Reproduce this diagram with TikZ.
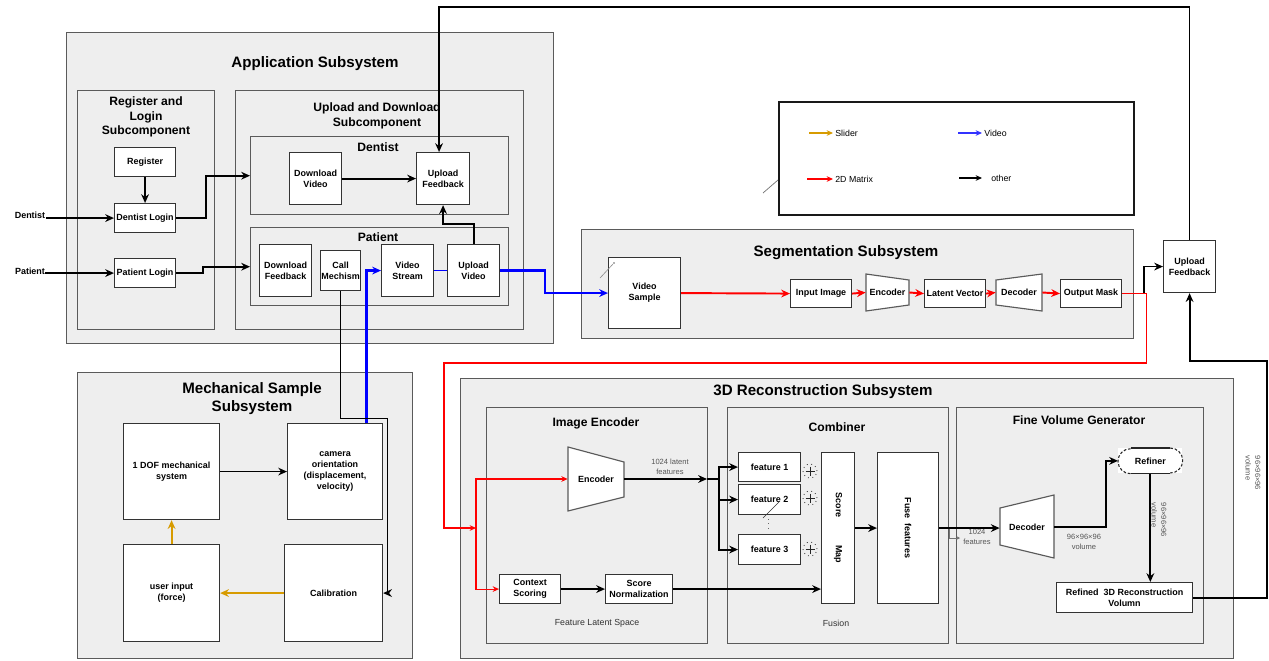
\documentclass[tikz,border=0pt]{standalone}
\usepackage{fontspec}
\usepackage{graphicx}
\setmainfont{Liberation Sans}
\usetikzlibrary{arrows.meta,calc}

\definecolor{panel}{HTML}{EEEEEE}
\definecolor{edge}{HTML}{5A5A5A}
\definecolor{boxedge}{HTML}{333333}
\definecolor{slider}{HTML}{D79B00}
\definecolor{vidblue}{HTML}{0000FF}
\definecolor{matred}{HTML}{FF0000}
\definecolor{notegray}{HTML}{555555}

\newcommand\myttl{\bfseries\fontsize{8.6}{10.2}\selectfont}
\newcommand\mysub{\bfseries\fontsize{6.9}{8.3}\selectfont}
\newcommand\mybox{\bfseries\fontsize{5.1}{6.3}\selectfont}
\newcommand\mynote{\fontsize{5}{6}\selectfont}
\newcommand\mytiny{\fontsize{4.3}{5.4}\selectfont}

\tikzset{
  sz/.style 2 args={minimum width=#1*0.02cm, minimum height=#2*0.02cm},
  panelbox/.style={draw=edge, fill=panel, line width=0.8pt, anchor=north west, inner sep=0pt},
  unit/.style={draw=boxedge, fill=white, line width=0.65pt, anchor=north west,
               inner sep=0.5pt, align=center, font=\mybox},
  shapeline/.style={draw=edge, fill=white, line width=0.65pt},
  ttl/.style={font=\myttl, align=center, inner sep=0pt},
  subttl/.style={font=\mysub, align=center, inner sep=0pt},
  inlbl/.style={font=\mybox, align=center, inner sep=0pt},
  notelbl/.style={font=\mynote, text=boxedge, align=center, inner sep=0pt},
  tinylbl/.style={font=\mytiny, text=notegray, align=center, inner sep=0pt},
  hv/.style={line width=1.1pt},
  md/.style={line width=0.85pt},
  lt/.style={line width=0.6pt},
  ar/.style={-{Stealth[length=5pt,width=4.4pt]}},
  ars/.style={-{Stealth[length=3.6pt,width=3.2pt]}},
  plus/.style={circle, draw=black!70, dotted, line width=0.5pt, sz={14}{14}, inner sep=0pt},
  plusbar/.style={black!85, line width=0.5pt},
}

\begin{document}
\begin{tikzpicture}[x=0.02cm,y=-0.02cm]
\useasboundingbox (0,0) rectangle (1269,660);
\fill[white] (0,0) rectangle (1269,660);

% ---------------- Application subsystem ----------------
\node[panelbox, sz={487}{311}] (app) at (66,32) {};
\node[ttl] (appT) at (315,64) {Application Subsystem};

\node[panelbox, sz={137}{239}] (reglog) at (77,90) {};
\node[subttl] (reglogT) at (146,117) {Register and\\Login\\Subcomponent};
\node[unit, sz={61}{29}] (register) at (114,147) {Register};
\node[unit, sz={61}{29}] (dlogin) at (114,203) {Dentist Login};
\node[unit, sz={61}{29}] (plogin) at (114,258) {Patient Login};

\node[panelbox, sz={288}{239}] (updown) at (235,90) {};
\node[subttl] (updownT) at (377,116) {Upload and Download\\Subcomponent};

\node[panelbox, sz={258}{78}] (dentgrp) at (250,136) {};
\node[subttl] (dentgrpT) at (378,147) {Dentist};
\node[unit, sz={52}{52}] (dlvideo) at (289,152) {Download\\Video};
\node[unit, sz={53}{52}] (ulfb) at (416,152) {Upload\\Feedback};

\node[panelbox, sz={258}{78}] (patgrp) at (250,227) {};
\node[subttl] (patgrpT) at (378,237) {Patient};
\node[unit, sz={52}{52}] (dlfb) at (259,244) {Download\\Feedback};
\node[unit, sz={40}{40}] (callm) at (320,250) {Call\\Mechism};
\node[unit, sz={52}{52}] (vstream) at (381,244) {Video\\Stream};
\node[unit, sz={52}{52}] (ulvideo) at (447,244) {Upload\\Video};

\node[inlbl] (dentistIn) at (30,215) {Dentist};
\node[inlbl] (patientIn) at (30,271) {Patient};

% ---------------- Mechanical sample subsystem ----------------
\node[panelbox, sz={335}{286}] (mech) at (77,372) {};
\node[ttl] (mechT) at (252,399) {Mechanical Sample\\Subsystem};
\node[unit, sz={96}{96}] (dof) at (123,423) {1 DOF mechanical\\system};
\node[unit, sz={95}{96}] (camera) at (287,423) {camera\\orientation\\(displacement,\\velocity)};
\node[unit, sz={96}{97}] (uinput) at (123,544) {user input\\(force)};
\node[unit, sz={98}{97}] (calib) at (284,544) {Calibration};

% ---------------- Legend ----------------
\node[draw=black!90, fill=white, line width=1pt, anchor=north west, sz={355}{113}] (legend) at (778,101) {};
\draw[slider, lt, ars] (809,133) -- (833,133);
\node[notelbl, text=black, anchor=west] (legSlider) at (835,133) {Slider};
\draw[vidblue!80, lt, ars] (958,133) -- (982,133);
\node[notelbl, text=black, anchor=west] (legVideo) at (984,133) {Video};
\draw[matred, lt, ars] (807,179) -- (833,179);
\node[notelbl, text=black, anchor=west] (legMatrix) at (835,179) {2D Matrix};
\draw[black, lt, ars] (959,178) -- (982,178);
\node[notelbl, text=black, anchor=west] (legOther) at (991,178) {other};
\draw[black!55, line width=0.4pt] (763,193) -- (778,180);

% ---------------- Segmentation subsystem ----------------
\node[panelbox, sz={552}{109}] (seg) at (581,229) {};
\node[ttl] (segT) at (846,253) {Segmentation Subsystem};
\node[unit, sz={72}{71}] (vsample) at (608,257) {Video\\Sample};
\draw[black!45, line width=0.35pt] (600,278) -- (613,264);
\fill[black!60] (614,263) circle (0.8);
\node[unit, sz={61}{28}] (inimg) at (790,279) {Input Image};
\draw[shapeline] (866,274) -- (909,280) -- (909,305) -- (866,311) -- cycle;
\node[inlbl, sz={43}{37}] (enc1) at (887.5,292.5) {Encoder};
\node[unit, sz={61}{28}] (latvec) at (924,279) {Latent Vector};
\draw[shapeline] (996,280) -- (1042,274) -- (1042,311) -- (996,305) -- cycle;
\node[inlbl, sz={46}{37}] (dec1) at (1019,292.5) {Decoder};
\node[unit, sz={61}{28}] (outmask) at (1060,279) {Output Mask};

\node[unit, sz={52}{52}] (ulfb2) at (1163,240) {Upload\\Feedback};

% ---------------- 3D reconstruction subsystem ----------------
\node[panelbox, sz={773}{280}] (recon) at (460,378) {};
\node[ttl] (reconT) at (823,392) {3D Reconstruction Subsystem};

% image encoder
\node[panelbox, sz={221}{236}] (imgenc) at (486,407) {};
\node[subttl] (imgencT) at (596,423) {Image Encoder};
\draw[shapeline] (568,447) -- (624,462) -- (624,497) -- (568,511) -- cycle;
\node[inlbl, sz={56}{64}] (enc2) at (596,479) {Encoder};
\node[unit, sz={61}{29}] (ctx) at (499,574) {Context\\Scoring};
\node[unit, sz={67}{29}] (snorm) at (605,574) {Score\\Normalization};
\node[tinylbl] (latentT) at (670,467) {1024 latent\\features};
\node[notelbl] (felsp) at (597,623) {Feature Latent Space};

% combiner
\node[panelbox, sz={221}{236}] (comb) at (727,407) {};
\node[subttl] (combT) at (837,427) {Combiner};
\node[unit, sz={62}{29}] (f1) at (738,452) {feature 1};
\node[unit, sz={62}{30}] (f2) at (738,484) {feature 2};
\node[unit, sz={62}{30}] (f3) at (738,534) {feature 3};
\draw[black!80, line width=0.35pt] (763,518) -- (779,502);
\draw[black!60, line width=0.5pt, dotted] (768,519) -- (768,531);
\foreach \pname/\py in {p1/471, p2/498, p3/549} {
  \node[plus] (\pname) at (810,\py) {};
  \draw[plusbar] ($(\pname)+(-4.5,0)$) -- ($(\pname)+(4.5,0)$);
  \draw[plusbar] ($(\pname)+(0,-4.5)$) -- ($(\pname)+(0,4.5)$);
}
\node[unit, sz={33}{151}] (smap) at (821,452) {\rotatebox{-90}{Score\hspace{15.8pt}Map}};
\node[unit, sz={61}{151}] (fuse) at (877,452) {\rotatebox{-90}{Fuse\ \ features}};
\node[notelbl] (fusionT) at (836,623) {Fusion};

% fine volume generator
\node[panelbox, sz={247}{236}] (fvg) at (956,407) {};
\node[subttl] (fvgT) at (1079,420) {Fine Volume Generator};
\draw[shapeline] (1000,508) -- (1054,495) -- (1054,558) -- (1000,545) -- cycle;
\node[inlbl, sz={54}{63}] (dec2) at (1027,527) {Decoder};
\node[inlbl, sz={64}{25}, anchor=north west, fill=white] (refiner) at (1118,448) {Refiner};
\draw[black!85, line width=0.6pt] ([xshift=0.25cm]refiner.north west) -- ([xshift=-0.25cm]refiner.north east);
\draw[black!85, line width=0.6pt] ([xshift=0.25cm]refiner.south west) -- ([xshift=-0.25cm]refiner.south east);
\draw[black!85, line width=0.6pt, dash pattern=on 1.6pt off 1pt]
  ([xshift=-0.25cm]refiner.north east) arc[start angle=90, end angle=-90, radius=0.25cm];
\draw[black!85, line width=0.6pt, dash pattern=on 1.6pt off 1pt]
  ([xshift=0.25cm]refiner.south west) arc[start angle=270, end angle=90, radius=0.25cm];
\node[unit, sz={136}{30}] (refined) at (1056,582) {Refined\ \ 3D Reconstruction\\Volumn};
\node[tinylbl] (decvolT) at (1084,542) {96\texttimes96\texttimes96\\volume};
\node[tinylbl] (featT) at (977,537) {1024\\features};
\node[tinylbl, rotate=-90, align=left] (refvolT) at (1159,520) {96\texttimes96\texttimes96\\volume};
\node[tinylbl, rotate=-90, align=left] (outvolT) at (1253,473) {96\texttimes96\texttimes96\\volume};
\draw[black!55, line width=0.35pt, -{Stealth[length=2pt,width=2pt]}] (949,527) -- (949,538) -- (960,538);

% ---------------- Connectors ----------------
\coordinate (rturn) at (444,363);
\coordinate (redin) at (476,528);
\coordinate (encout) at (707,479);
\coordinate (fan) at (719,479);
\coordinate (rcorner) at (1267,361);

% application
\draw[hv, ar] (register.south) -- (dlogin.north);
\draw[md, ar] (dentistIn.east |- dlogin.west) -- (dlogin.west);
\draw[md, ar] (patientIn.east |- plogin.west) -- (plogin.west);
\draw[hv, ar] (dlogin.east) -- ++(30,0) |- (dentgrp.west);
\draw[hv, ar] (plogin.east) -- ++(27,0) |- (patgrp.west);
\draw[hv, ar] (dlvideo.east) -- (ulfb.west);
\draw[hv, ar] (ulvideo.north) -- ++(0,-20) -| (ulfb.south);
\draw[vidblue, line width=0.5pt] (vstream.east) -- (ulvideo.west);
\draw[vidblue, line width=1.4pt, ar] (ulvideo.east) -- ++(45,0) |- (vsample.west);
\draw[md, ar] (ulfb2.north) -- ++(0,-233) -| ($(ulfb.north)+(-4,0)$);

% mechanical
\draw[lt, ar] (dof.east) -- (camera.west);
\draw[slider, hv, ar] (uinput.north) -- (dof.south);
\draw[slider, hv, ar] (calib.west) -- (uinput.east);
\draw[vidblue, line width=1.4pt, ar] ($(camera.north)+(31.5,0)$) |- (vstream.west);
\draw[lt, ar] (callm.south) -- ++(0,127) -- ++(47,0) |- (calib.east);

% segmentation
\draw[matred, hv, ar] (vsample.east) -- (inimg.west);
\draw[matred, hv, ar] (inimg.east) -- (enc1.west);
\draw[matred, hv, ar] (enc1.east) -- (latvec.west);
\draw[matred, hv, ar] (latvec.east) -- (dec1.west);
\draw[matred, hv, ar] (dec1.east) -- (outmask.west);
\draw[md, ar] (outmask.east) -- ++(22,0) |- (ulfb2.west);
\draw[matred, lt, ars] (outmask.east) -- ++(24,0) |- (rturn) |- (redin);

% 3D reconstruction
\draw[matred, lt, ars] (redin) |- (enc2.west);
\draw[matred, lt, ars] (redin) |- (ctx.west);
\draw[hv, ar] (enc2.east) -- (encout);
\draw[hv] (encout) -- (fan);
\draw[hv, ar] (fan) |- (f1.west);
\draw[hv, ar] (fan) |- (f2.west);
\draw[hv, ar] (fan) |- (f3.west);
\draw[hv, ar] (ctx.east) -- (snorm.west);
\draw[hv, ar] (snorm.east) -- (snorm.east -| smap.west);
\draw[hv, ar] (smap.east) -- (fuse.west);
\draw[hv, ar] (fuse.east) -- (fuse.east -| dec2.west);
\draw[hv, ar] (dec2.east) -- ++(52,0) |- (refiner.west);
\draw[hv, ar] (refiner.south) -- (refiner.south |- refined.north);
\draw[hv, ar] (refined.east) -| (rcorner) -| (ulfb2.south);

\end{tikzpicture}
\end{document}
